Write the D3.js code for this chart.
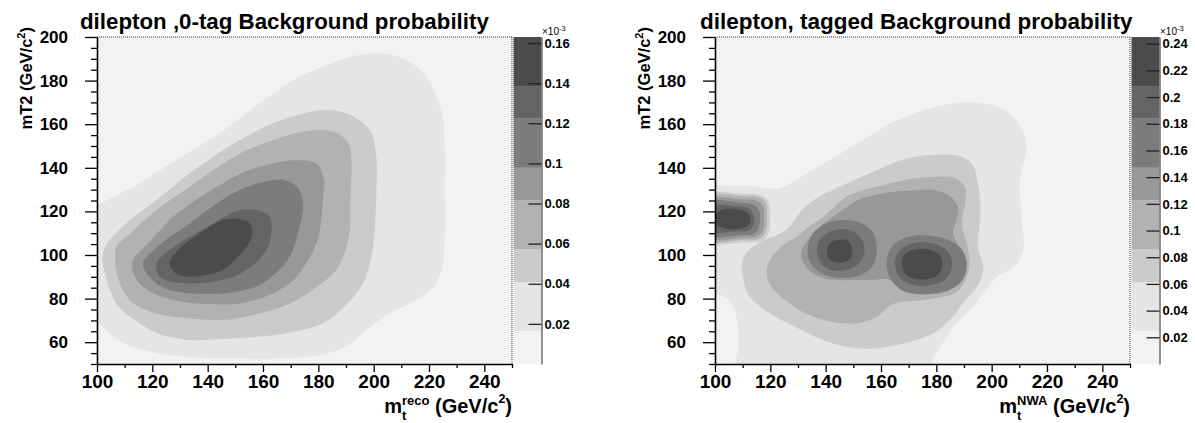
<!DOCTYPE html>
<html>
<head>
<meta charset="utf-8">
<script src="https://cdn.jsdelivr.net/npm/d3@7"></script>
<style>
  body { margin: 0; background: #fff; }
  text { font-family: "Liberation Sans", Arial, Helvetica, sans-serif; font-weight: bold; fill: #000; }
</style>
</head>
<body>
<svg id="chart" width="1195" height="423"></svg>
<script>
// ---- axis ranges and ticks ----
const xDomain = [100, 250];
const yDomain = [50, 200];
const xTicks = [100, 120, 140, 160, 180, 200, 220, 240];
const yTicks = [60, 80, 100, 120, 140, 160, 180, 200];

// ---- colour scale: 20 contour levels, grouped into 8 grey bands ----
const nLevels = 20;
const bandStartLevel = [0, 2, 5, 7, 10, 12, 15, 17];
const bandGrays = ["#f2f2f2", "#e5e5e5", "#cbcbcb", "#b2b2b2", "#989898", "#7c7c7c", "#646464", "#4b4b4b"];

// colour-bar ranges (units of 10^-3) and ticks
const zeroTagMax = 0.163;
const taggedMax = 0.245;
const zeroTagBarTicks = [0.02, 0.04, 0.06, 0.08, 0.10, 0.12, 0.14, 0.16];
const zeroTagBarLabels = ["0.02", "0.04", "0.06", "0.08", "0.1", "0.12", "0.14", "0.16"];
const taggedBarTicks = [0.02, 0.04, 0.06, 0.08, 0.10, 0.12, 0.14, 0.16, 0.18, 0.20, 0.22, 0.24];
const taggedBarLabels = ["0.02", "0.04", "0.06", "0.08", "0.1", "0.12", "0.14", "0.16", "0.18", "0.2", "0.22", "0.24"];

// ---- 0-tag contours: outline of each level boundary, [m_t, mT2] ----
const zeroTagL2 = [[96,118],[105,126],[114,132],[121,137.5],[133,147],[145.6,157],[155,166],[163.6,174],[172,181],[181.7,186.4],[192,191],[202,192.5],[210,190.5],[215.5,186.4],[220,180],[222.7,172.6],[225,163],[225.7,150],[225.7,130],[225.7,110],[225,96],[222,86],[215,79],[205.8,73.2],[197.4,65.6],[190,58],[180,54],[165,52.5],[150,52.5],[135,53],[120,55.5],[109,60],[102,67],[98,76],[96,90]];
const zeroTagL5 = [[102,100],[104,106],[112,116],[121.5,125.2],[133,137],[145.6,148.2],[155,155],[163.6,160.4],[172,164],[181.7,166.5],[190,165],[198.6,157.3],[201,145],[201,130],[200.4,111.5],[199,98],[196.2,87],[190,77],[181.7,68.7],[170,64.5],[157.6,62.5],[145,61.5],[133.5,61],[123,63.5],[115.4,68.7],[108,76],[104.6,84],[102.8,92]];
const zeroTagL7 = [[107,103.8],[113,111],[121.5,120.6],[133,131],[145.6,142],[154,148],[163.6,152.7],[172,156],[181.7,157.3],[188,155],[191.4,149.7],[192,141],[191.6,125],[191.4,111.5],[189.5,101],[186.5,93.1],[179,85],[169.7,77.8],[158,73],[145.6,70.2],[133,71],[121.5,73.2],[113,78],[109.4,84],[107,92],[106.5,99]];
const zeroTagL10 = [[113,97.7],[119,106],[127.5,117.6],[136,125.5],[145.6,132.9],[154,138.5],[163.6,142],[172,143.5],[179.3,142],[182,135],[181.7,126.7],[181,115],[179.3,105.3],[175,95],[169.7,87],[161,81],[151.6,77.8],[140,77.5],[127.5,79.4],[119.5,83],[115.4,87],[113,92]];
const zeroTagL12 = [[116.6,96.2],[124,106],[133.5,114.5],[142,122.5],[151.6,129.8],[160,133.5],[167.3,134.4],[172.5,131],[174.5,123.7],[173,112],[169.7,99.2],[164,91],[157.6,85.5],[146,82.5],[133.5,82.4],[124,85],[119,90]];
const zeroTagL15 = [[121.5,96.2],[127,103],[133.5,108.4],[142,114.5],[151.6,120.6],[158,120.5],[162.4,117.6],[163,110],[161.2,102.3],[156,95],[149.2,90],[141,87.5],[133.5,87],[126,88],[122.7,90]];
const zeroTagL17 = [[126.3,96.2],[129,102],[133.5,106.9],[139,111.5],[145.6,116],[151,116.5],[155.2,114.5],[156,109],[154,103.8],[150,98],[145.6,93.1],[140,91],[133.5,90],[128.5,91.5]];

// ---- tagged contours ----
const taggedL2 = [[97,131],[105,131.5],[113,131.5],[119,130.5],[124,131],[130,135],[136,139.5],[142,144],[148,148.5],[155,154],[162,159.5],[169,163.5],[177,167],[186,169.5],[194,169.8],[202,168],[208,163],[211.5,156],[212.5,148],[211,140],[210,133],[210.5,124],[211,114],[211.5,103],[208.5,95],[202,90],[198,84],[193,76],[187,68],[182.5,60],[179,53],[177,45],[108,45],[108.5,58],[108,70],[106,78],[102,81.5],[97,82]];
const taggedL5main = [[110,98],[112.5,102.5],[118,107],[123,109.5],[127,113],[131,120],[136,125.5],[142,129.5],[148,133],[156,137.5],[164,142],[172,145],[180,146],[188,145.5],[193,141.5],[195,133],[196,122],[195.5,113],[195,104],[197,94],[195,86],[190,78.5],[185.5,71],[179.5,64.5],[170,60],[156,57],[147,58],[139,61],[129,67],[119.5,73.5],[112.5,81],[110,90]];
const taggedL5blob = [[97,127.5],[110,128],[116,127.5],[119,125],[119.8,118],[119.3,110],[117,106.5],[110,105.8],[97,106]];
const taggedL7main = [[118.8,93],[120,98],[124,104],[129.5,108.4],[134,113],[139.2,117.6],[143,122],[147.6,126.8],[153,129.5],[158.5,131.3],[167,134],[175.3,135.5],[183,136],[187.4,135],[190.5,130.5],[190.5,124],[189.5,118],[189.5,112],[191,105.3],[192,97],[191,90],[187.4,83],[181,80.5],[175.3,79.4],[168,78.5],[163.3,77],[158.5,71.7],[151.2,68.6],[145,68.8],[139.2,70.2],[133,73],[127.1,77.8],[121.5,83.5],[119.3,88]];
const taggedL7blob = [[97,126.5],[110,127],[115.5,126.5],[118.3,124],[118.8,118],[118.3,111],[116,107.5],[110,107],[97,107]];
const taggedL10main = [[131,100],[133,106],[137,112],[142,117],[147,121.5],[152,125.5],[158,127.5],[163,128.8],[170,129.5],[179,129.8],[185,127],[188,121],[187,115],[186,110],[188,104],[189,96],[187.5,88],[183,84],[176,83],[169,84.5],[162,89],[157,88.5],[151,88.5],[145,88.5],[139,89.5],[134,93]];
const taggedL10blob = [[97,125],[110,125.5],[115,125],[117.5,122],[117.8,117],[117.3,111],[115,108.5],[110,108],[97,108]];
const taggedL12a = [[97,124],[109,124],[114,123],[116,120],[116.2,116],[115.6,111.5],[113.5,109.5],[108,109],[97,109]];
const taggedL12b = [[133.5,103],[135.5,110],[140,114.5],[146,116],[152,115],[157,110.5],[158.5,103],[157,95],[152,90.5],[145,89.5],[138.5,91.5],[134.5,96.5]];
const taggedL12c = [[162,97],[164,104],[169,108],[176,109],[183,107.5],[189,103],[191,96],[189.5,88.5],[184,83.5],[176,82],[168,83.5],[163.5,89]];
const taggedL15a = [[97,122],[107,122.5],[112,121.5],[114,118],[114,114],[112.5,111.5],[107,110.8],[97,111]];
const taggedL15b = [[136.8,102.5],[138.5,108],[142,111],[146,111.8],[150.5,110.5],[153.5,106],[153.8,100],[151.5,95.5],[147,93],[142,93],[138.5,96]];
const taggedL15c = [[165,96.5],[166.5,101.5],[170.5,105],[176,105.8],[181.5,104],[185,100],[185.5,94],[183,88.5],[177,86],[171,86.5],[166.5,90]];
const taggedL17a = [[100.5,119],[103,121],[108,121],[111.5,119.5],[112.8,116.5],[112,113.5],[109,112],[104,112],[101,113.5],[100,116]];
const taggedL17b = [[140.5,102],[141.5,105.5],[144.5,107],[148,106.5],[149.5,103],[149,98.5],[146,96.5],[142.5,97],[140.8,99]];
const taggedL17c = [[167.5,95.5],[168.5,100],[172.5,102.5],[177.5,102.5],[181.5,99.5],[182,94],[179.5,89.8],[174,88.8],[169.5,90.5]];

const zeroTagRings = [[2, zeroTagL2], [5, zeroTagL5], [7, zeroTagL7], [10, zeroTagL10], [12, zeroTagL12], [15, zeroTagL15], [17, zeroTagL17]];
const taggedRings = [[2, taggedL2], [5, taggedL5main], [5, taggedL5blob], [7, taggedL7main], [7, taggedL7blob],
  [10, taggedL10main], [10, taggedL10blob], [12, taggedL12a], [12, taggedL12b], [12, taggedL12c],
  [15, taggedL15a], [15, taggedL15b], [15, taggedL15c], [17, taggedL17a], [17, taggedL17b], [17, taggedL17c]];

const svg = d3.select("#chart");

function drawPanel(p) {
  const g = svg.append("g");
  const x = d3.scaleLinear().domain(xDomain).range([p.x0, p.x1]);
  const y = d3.scaleLinear().domain(yDomain).range([p.y1, p.y0]);

  const clipId = "clip-" + p.id;
  svg.append("defs").append("clipPath").attr("id", clipId)
    .append("rect").attr("x", p.x0).attr("y", p.y0).attr("width", p.x1 - p.x0).attr("height", p.y1 - p.y0);

  const area = g.append("g").attr("clip-path", `url(#${clipId})`);
  area.append("rect").attr("x", p.x0).attr("y", p.y0).attr("width", p.x1 - p.x0).attr("height", p.y1 - p.y0)
    .attr("fill", bandGrays[0]);

  const line = d3.line().x(d => x(d[0])).y(d => y(d[1])).curve(d3.curveCatmullRomClosed.alpha(0.5));
  area.selectAll("path.band").data(p.rings).join("path")
    .attr("class", "band")
    .attr("d", d => line(d[1]))
    .attr("fill", d => bandGrays[bandStartLevel.indexOf(d[0])]);

  // frame: dotted top and right edges
  g.append("line").attr("x1", p.x0).attr("x2", p.x1).attr("y1", p.y0).attr("y2", p.y0)
    .attr("stroke", "#000").attr("stroke-width", 0.8).attr("stroke-dasharray", "1,1");
  g.append("line").attr("x1", p.x1).attr("x2", p.x1).attr("y1", p.y0).attr("y2", p.y1)
    .attr("stroke", "#000").attr("stroke-width", 0.8).attr("stroke-dasharray", "1,1");

  // y axis
  const yMinor = d3.range(50, 201, 5).filter(v => !yTicks.includes(v));
  const ya = g.append("g").attr("transform", `translate(${p.x0},0)`)
    .call(d3.axisLeft(y).tickValues(yTicks).tickSize(12).tickSizeOuter(0).tickPadding(17));
  ya.select(".domain").attr("stroke-width", 1.6);
  ya.selectAll("text").style("font-size", "17px").style("font-family", null);
  const ym = g.append("g").attr("transform", `translate(${p.x0},0)`)
    .call(d3.axisLeft(y).tickValues(yMinor).tickSize(6).tickFormat(""));
  ym.select(".domain").remove();

  // x axis
  const xMinor = d3.range(110, 251, 10).filter(v => !xTicks.includes(v));
  const xa = g.append("g").attr("transform", `translate(0,${p.y1})`)
    .call(d3.axisBottom(x).tickValues(xTicks).tickSize(8).tickSizeOuter(0).tickPadding(3));
  xa.select(".domain").attr("stroke-width", 1.6);
  xa.selectAll("text").style("font-size", "19px").style("font-family", null);
  const xm = g.append("g").attr("transform", `translate(0,${p.y1})`)
    .call(d3.axisBottom(x).tickValues(xMinor).tickSize(4).tickFormat(""));
  xm.select(".domain").remove();
  g.selectAll(".tick line").attr("stroke-width", 1.3);

  // colour bar
  const c = d3.scaleLinear().domain([0, p.max]).range([p.y1, p.y0]);
  const step = p.max / nLevels;
  const bands = bandStartLevel.map((lv, i) => [lv * step, (i + 1 < bandStartLevel.length ? bandStartLevel[i + 1] : nLevels) * step]);
  g.selectAll("rect.bar").data(bands).join("rect")
    .attr("class", "bar")
    .attr("x", p.bx0).attr("width", p.bx1 - p.bx0)
    .attr("y", d => c(d[1])).attr("height", d => c(d[0]) - c(d[1]))
    .attr("fill", (d, i) => bandGrays[i]);
  const ca = g.append("g").attr("transform", `translate(${p.bx1},0)`)
    .call(d3.axisRight(c).tickValues(p.barTicks).tickFormat((d, i) => p.barLabels[i])
      .tickSize(-13).tickSizeOuter(0).tickPadding(3));
  ca.select(".domain").attr("stroke", "#777").attr("stroke-width", 1.6);
  ca.selectAll(".tick line").attr("stroke", "#222").attr("stroke-width", 1.3);
  ca.selectAll("text").style("font-size", "13px").style("font-family", null);

  const mult = g.append("text").attr("x", p.bx1 + 0.5).attr("y", 35)
    .style("font-size", "10px").style("font-weight", "normal");
  mult.append("tspan").text("\u00d710");
  mult.append("tspan").attr("dy", -4).style("font-size", "7.5px").text("-3");

  // title
  g.append("text").attr("x", p.titleX).attr("y", 29).style("font-size", p.titleSize).text(p.title);

  // y title
  const yt = g.append("text").attr("transform", `translate(${p.x0 - 65},${p.y0 - 10}) rotate(-90)`)
    .attr("text-anchor", "end").style("font-size", "16.5px");
  yt.append("tspan").text("mT2 (GeV/c");
  yt.append("tspan").attr("dy", -7).style("font-size", "11px").text("2");
  yt.append("tspan").attr("dy", 7).text(")");

  // x title
  const xt = g.append("text").attr("x", p.x1).attr("y", 413).attr("text-anchor", "end").style("font-size", "20px");
  xt.append("tspan").text("m");
  xt.append("tspan").attr("dy", 7).style("font-size", "13px").text("t");
  xt.append("tspan").attr("dx", -4.3).attr("dy", -15).style("font-size", "13px").text(p.sup);
  xt.append("tspan").attr("dy", 8).text(" (GeV/c");
  xt.append("tspan").attr("dy", -10).style("font-size", "12.5px").text("2");
  xt.append("tspan").attr("dy", 10).text(")");
}

drawPanel({
  id: "zerotag", x0: 97, x1: 512, y0: 37, y1: 364, bx0: 513.5, bx1: 541.5,
  max: zeroTagMax, barTicks: zeroTagBarTicks, barLabels: zeroTagBarLabels,
  rings: zeroTagRings, title: "dilepton ,0-tag Background probability", titleX: 80, titleSize: "22.3px", sup: "reco"
});
drawPanel({
  id: "tagged", x0: 715, x1: 1130, y0: 37, y1: 364, bx0: 1131.5, bx1: 1159.5,
  max: taggedMax, barTicks: taggedBarTicks, barLabels: taggedBarLabels,
  rings: taggedRings, title: "dilepton, tagged Background probability", titleX: 700, titleSize: "22.5px", sup: "NWA"
});
</script>
</body>
</html>
